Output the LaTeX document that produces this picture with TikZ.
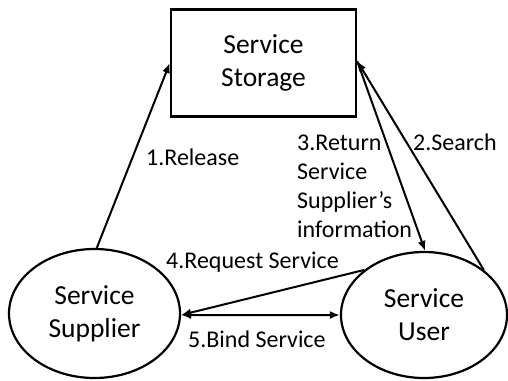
\documentclass[tikz,border=0pt]{standalone}
\usepackage{fontspec}
\setmainfont{Carlito}
\usetikzlibrary{arrows.meta,shapes.geometric}
\begin{document}
\begin{tikzpicture}[x=1pt,y=-1pt,
  every node/.style={inner sep=0pt},
  nodetext/.style={font=\fontsize{27.5}{33}\selectfont, align=center},
  lbl/.style={font=\fontsize{24}{29}\selectfont},
  ell/.style={draw, line width=2.2pt, ellipse, nodetext},
  conn/.style={line width=2pt, -{Latex[length=10pt,width=8pt]}},
  conn2/.style={line width=2pt, {Latex[length=10pt,width=8pt]}-{Latex[length=10pt,width=8pt]}}]
\useasboundingbox (0,0) rectangle (508,380);
\node[draw, line width=2.4pt, minimum width=185pt, minimum height=107pt, nodetext] (st) at (263.5,63) {Service\\Storage};
\node[ell, minimum width=171pt, minimum height=129pt] (sup) at (94.5,313.5) {Service\\Supplier};
\node[ell, minimum width=166pt, minimum height=126pt] (usr) at (424,315) {Service\\User};
\draw[conn] (sup.88) -- (st.west);
\draw[conn] (usr.37) -- ([yshift=2pt]st.east);
\draw[conn] ([yshift=2pt]st.east) -- (usr.89);
\draw[conn] (usr.143) -- (sup.-1);
\draw[conn2] (sup.-1) -- (usr.180);
\node[lbl, anchor=west] (l1) at (146,157) {1.Release};
\node[lbl, anchor=west] (l2) at (413,142) {2.Search};
\node[lbl, anchor=west, align=left] (l3) at (297,186) {3.Return\\Service\\Supplier’s\\information};
\node[lbl, anchor=west] (l4) at (166,262) {4.Request Service};
\node[lbl, anchor=west] (l5) at (188,339) {5.Bind Service};
\end{tikzpicture}
\end{document}
